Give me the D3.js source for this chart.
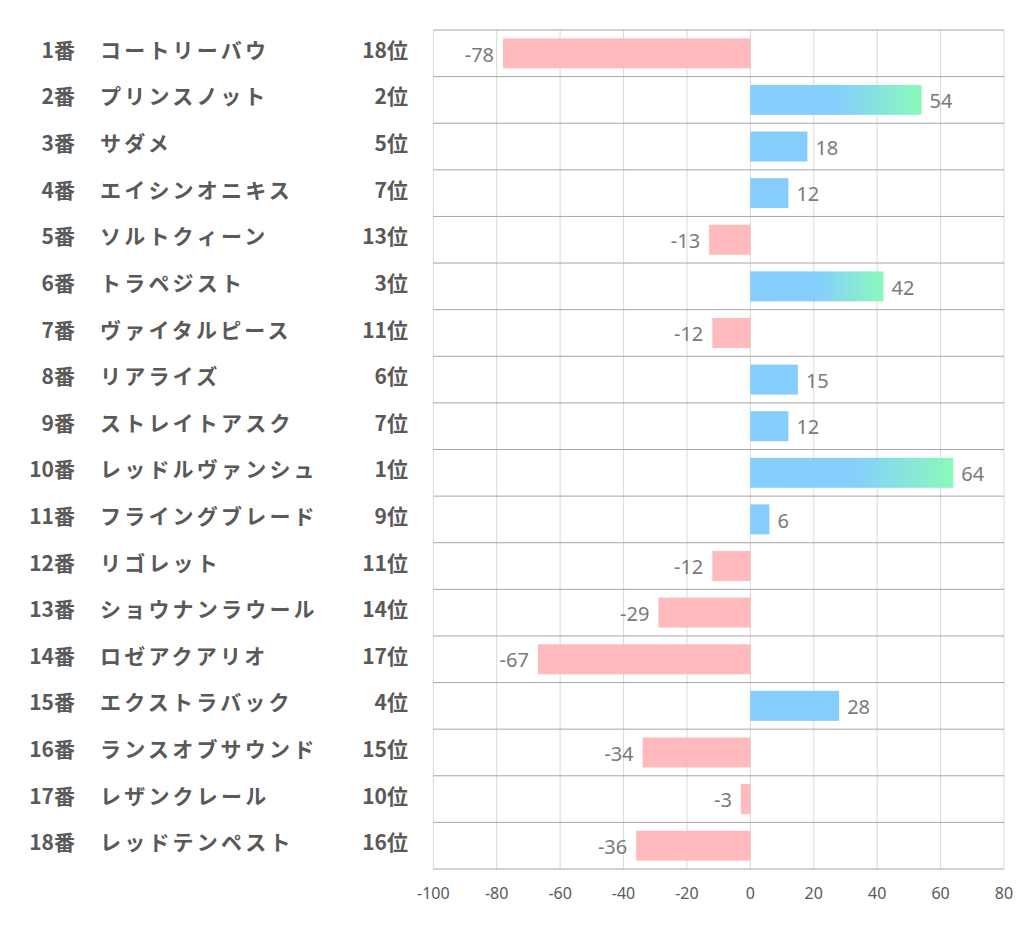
<!DOCTYPE html>
<html><head><meta charset="utf-8">
<script src="https://cdn.jsdelivr.net/npm/d3@7"></script>
<style>
body{margin:0;background:#fff;}
svg{display:block;}
</style></head>
<body>
<svg id="chart" width="1022" height="939"></svg>
<script>
const numbers = ["1番","2番","3番","4番","5番","6番","7番","8番","9番","10番","11番","12番","13番","14番","15番","16番","17番","18番"];
const names = ["コートリーバウ","プリンスノット","サダメ","エイシンオニキス","ソルトクィーン","トラペジスト","ヴァイタルピース","リアライズ","ストレイトアスク","レッドルヴァンシュ","フライングブレード","リゴレット","ショウナンラウール","ロゼアクアリオ","エクストラバック","ランスオブサウンド","レザンクレール","レッドテンペスト"];
const ranks = [18,2,5,7,13,3,11,6,7,1,9,11,14,17,4,15,10,16];
const values = [-78,54,18,12,-13,42,-12,15,12,64,6,-12,-29,-67,28,-34,-3,-36];
const xTicks = [-100,-80,-60,-40,-20,0,20,40,60,80];

(function(){
const svg = d3.select("#chart");
const pLeft = 433.3, pRight = 1004, pTop = 30, pBottom = 869;

const x = d3.scaleLinear().domain([-100, 80]).range([pLeft, pRight]);
const y = d3.scaleBand().domain(d3.range(values.length)).range([pTop, pBottom]).paddingInner(0.357).paddingOuter(0.1785);
const rowH = (pBottom - pTop) / values.length;

const defs = svg.append("defs");
const grad = defs.append("linearGradient").attr("id","g1").attr("x1","0%").attr("x2","100%").attr("y1","0%").attr("y2","0%");
grad.append("stop").attr("offset","0%").attr("stop-color","#78c8fd");
grad.append("stop").attr("offset","52%").attr("stop-color","#78cafd");
grad.append("stop").attr("offset","100%").attr("stop-color","#7cf9b3");

svg.append("g").selectAll("line").data(xTicks).join("line")
  .attr("x1", d => x(d)).attr("x2", d => x(d))
  .attr("y1", pTop).attr("y2", pBottom)
  .attr("stroke", "#d9d9d9").attr("stroke-width", 1);

svg.append("g").selectAll("line").data(d3.range(values.length + 1)).join("line")
  .attr("x1", pLeft).attr("x2", pRight)
  .attr("y1", i => pTop + i * rowH).attr("y2", i => pTop + i * rowH)
  .attr("stroke", "#a6a6a6").attr("stroke-width", 1);

svg.append("g").selectAll("rect").data(values).join("rect")
  .attr("x", d => x(Math.min(0, d)))
  .attr("width", d => Math.abs(x(d) - x(0)))
  .attr("y", (d, i) => y(i))
  .attr("height", y.bandwidth())
  .attr("fill", (d, i) => d < 0 ? "#ffb3b6" : (ranks[i] <= 3 ? "url(#g1)" : "#78c8fd"))
  .attr("fill-opacity", 0.9);

svg.append("g").selectAll("text").data(values).join("text")
  .attr("x", d => d < 0 ? x(d) - 9 : x(d) + 8)
  .attr("y", (d, i) => y(i) + y.bandwidth() / 2 + 1)
  .attr("dy", "0.36em")
  .attr("text-anchor", d => d < 0 ? "end" : "start")
  .attr("font-family", "'Noto Sans', 'Open Sans', sans-serif")
  .attr("font-size", 20)
  .attr("fill", "#7a7a7a")
  .text(d => d);

svg.append("g").selectAll("text").data(xTicks).join("text")
  .attr("x", d => x(d)).attr("y", 893).attr("dy", "0.36em")
  .attr("text-anchor", "middle")
  .attr("font-family", "'Noto Sans', 'Open Sans', sans-serif")
  .attr("font-size", 16)
  .attr("fill", "#595959")
  .text(d => d);

const lab = svg.append("g")
  .attr("font-family", "'Noto Sans CJK JP', 'Noto Sans', sans-serif")
  .attr("font-weight", "bold").attr("font-size", 21).attr("fill", "#595959");
lab.selectAll("text.num").data(numbers).join("text").attr("class","num")
  .attr("x", 75).attr("y", (d, i) => pTop + (i + 0.5) * rowH - 3).attr("dy","0.36em")
  .attr("text-anchor","end").text(d => d);
lab.selectAll("text.name").data(names).join("text").attr("class","name")
  .attr("x", 100).attr("y", (d, i) => pTop + (i + 0.5) * rowH - 3).attr("dy","0.36em")
  .attr("letter-spacing", 3.2).text(d => d);
lab.selectAll("text.rank").data(ranks).join("text").attr("class","rank")
  .attr("x", 408).attr("y", (d, i) => pTop + (i + 0.5) * rowH - 3).attr("dy","0.36em")
  .attr("text-anchor","end").text(d => d + "位");
})();
</script>
</body></html>
